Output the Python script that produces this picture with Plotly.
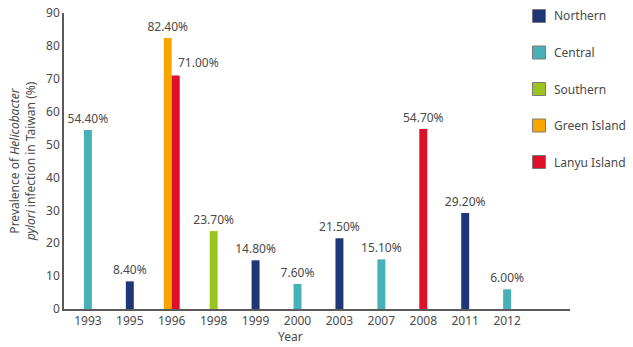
import plotly.graph_objects as go

years = ["1993", "1995", "1996", "1998", "1999", "2000", "2003", "2007", "2008", "2011", "2012"]

northern_years = ["1995", "1999", "2003", "2011"]
northern_vals = [8.4, 14.8, 21.5, 29.2]
central_years = ["1993", "2000", "2007", "2012"]
central_vals = [54.4, 7.6, 15.1, 6.0]
southern_years = ["1998"]
southern_vals = [23.7]
green_years = ["1996"]
green_vals = [82.4]
lanyu_years = ["1996", "2008"]
lanyu_vals = [71.0, 54.7]

series = [
    ("Northern", northern_years, northern_vals, "#1f3677"),
    ("Central", central_years, central_vals, "#48b1b8"),
    ("Southern", southern_years, southern_vals, "#9cc420"),
    ("Green Island", green_years, green_vals, "#f8a500"),
    ("Lanyu Island", lanyu_years, lanyu_vals, "#e0102a"),
]

FONT = "Noto Sans"
TXT = "#4a4a4a"
W = 0.19
WIDTH, HEIGHT = 633, 347
ML, MR, MT, MB = 64, 63, 13, 38
PW, PH = WIDTH - ML - MR, HEIGHT - MT - MB


def px_x(p):
    return (p - ML) / PW


def px_y(p):
    return (HEIGHT - MB - p) / PH


# count bars per category to place paired bars side by side
counts = {}
for _, ys, _, _ in series:
    for y in ys:
        counts[y] = counts.get(y, 0) + 1

fig = go.Figure()
seen = {}
annotations = []
shapes = []
for name, ys, vals, color in series:
    offsets, texts = [], []
    for y, v in zip(ys, vals):
        n = counts[y]
        k = seen.get(y, 0)
        seen[y] = k + 1
        off = -n * W / 2 + k * W
        offsets.append(off)
        label = f"{v:.2f}%"
        if n > 1 and k > 0:
            texts.append("")
            annotations.append(dict(x=years.index(y) + off, y=v, xref="x", yref="y", text=label,
                                    showarrow=False, xanchor="left", yanchor="bottom",
                                    xshift=4, yshift=2, font=dict(family=FONT, size=12, color=TXT)))
        else:
            texts.append(label)
    fig.add_trace(go.Bar(
        x=ys, y=vals, width=W, offset=offsets, name=name, showlegend=False,
        marker=dict(color=color, line=dict(width=0)),
        text=texts, textposition="outside", cliponaxis=False, constraintext="none",
        textfont=dict(family=FONT, size=12, color=TXT),
    ))

# legend drawn as swatches + labels on the right
for i, (name, ys, vals, color) in enumerate(series):
    cy = 16 + i * 36.5
    shapes.append(dict(type="rect", xref="paper", yref="paper", layer="above",
                       x0=px_x(532.5), x1=px_x(545.5), y0=px_y(cy - 6.5), y1=px_y(cy + 6.5),
                       fillcolor=color, line=dict(color="#7a7a7a", width=1)))
    annotations.append(dict(x=px_x(552), y=px_y(cy), xref="paper", yref="paper", text=name,
                            showarrow=False, xanchor="left", yanchor="middle",
                            font=dict(family=FONT, size=12, color=TXT)))

annotations.append(dict(x=0.447, y=0, xref="paper", yref="paper", yshift=-17,
                        text="Year", showarrow=False, xanchor="center", yanchor="top",
                        font=dict(family=FONT, size=12, color=TXT)))

fig.update_layout(
    width=WIDTH, height=HEIGHT,
    margin=dict(l=ML, r=MR, t=MT, b=MB, autoexpand=False),
    barmode="overlay",
    plot_bgcolor="white", paper_bgcolor="white",
    font=dict(family=FONT, size=12, color=TXT),
    showlegend=False,
    annotations=annotations,
    shapes=shapes,
    xaxis=dict(type="category", categoryorder="array", categoryarray=years,
               range=[-0.57, 11.5], showline=True, linecolor="#5a5a5a", linewidth=1.5,
               showgrid=False, ticks="", tickfont=dict(family=FONT, size=12, color=TXT)),
    yaxis=dict(range=[0, 90], dtick=10, showline=True, linecolor="#5a5a5a", linewidth=1.5,
               showgrid=False, zeroline=False, ticks="",
               tickfont=dict(family=FONT, size=12, color=TXT),
               title=dict(text="Prevalence of <i>Helicobacter</i><br><i>pylori</i> infection in Taiwan (%)",
                          font=dict(family=FONT, size=12, color=TXT), standoff=8)),
)

fig.write_html("out.html")
